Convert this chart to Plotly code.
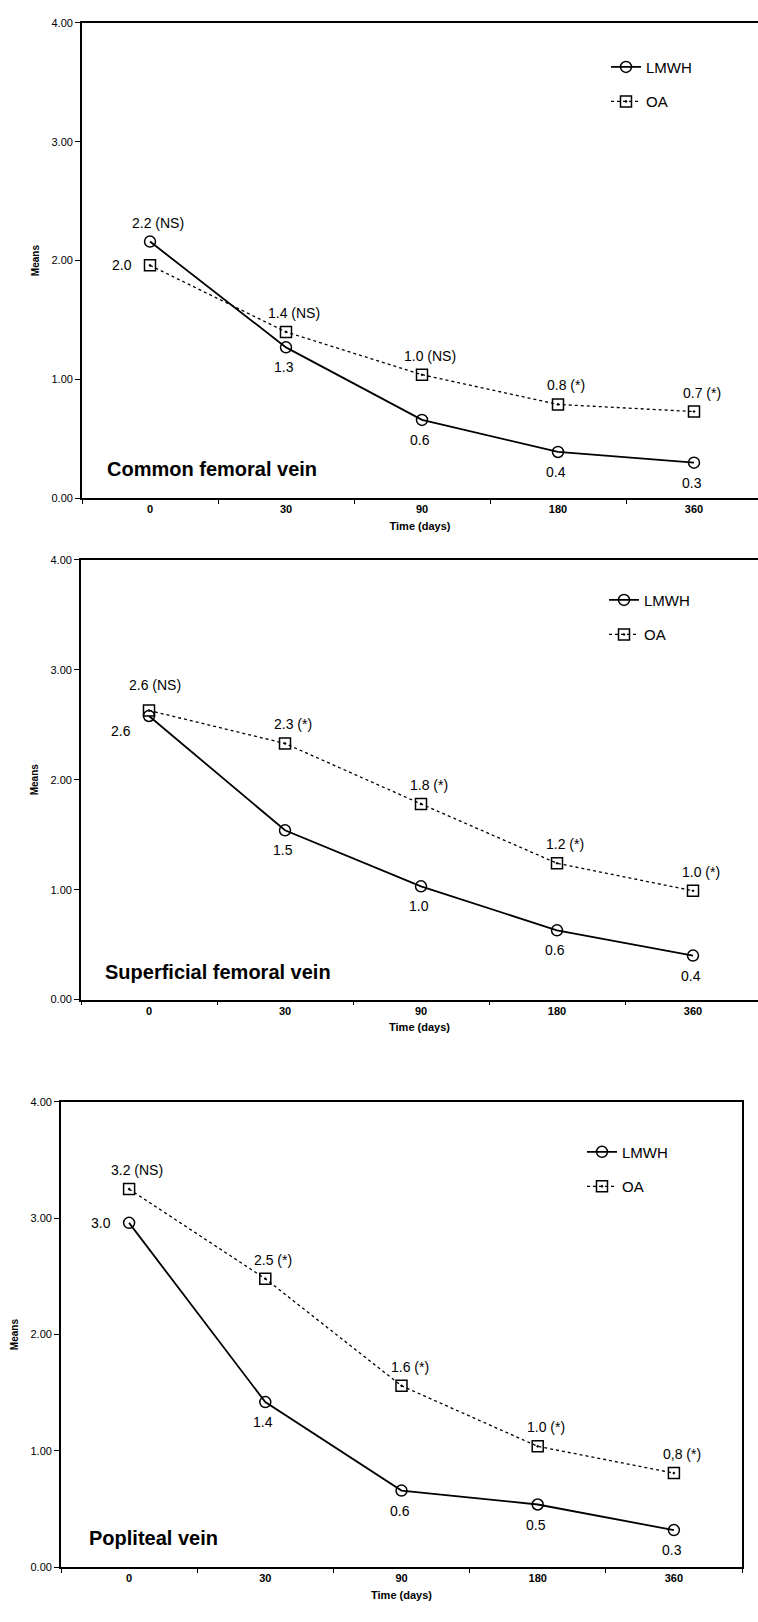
import plotly.graph_objects as go

W, H = 758, 1622

# ---------------- data ----------------
days = ["0", "30", "90", "180", "360"]

cfv_lmwh = [2.16, 1.27, 0.66, 0.39, 0.30]
cfv_oa = [1.96, 1.40, 1.04, 0.79, 0.73]
cfv_lmwh_labels = ["2.2 (NS)", "1.3", "0.6", "0.4", "0.3"]
cfv_oa_labels = ["2.0", "1.4 (NS)", "1.0 (NS)", "0.8 (*)", "0.7 (*)"]
cfv_lmwh_pos = ["above", "below", "below", "below", "below"]
cfv_oa_pos = ["left", "above", "above", "above", "above"]

sfv_lmwh = [2.58, 1.54, 1.03, 0.63, 0.40]
sfv_oa = [2.63, 2.33, 1.78, 1.24, 0.99]
sfv_lmwh_labels = ["2.6", "1.5", "1.0", "0.6", "0.4"]
sfv_oa_labels = ["2.6 (NS)", "2.3 (*)", "1.8 (*)", "1.2 (*)", "1.0 (*)"]
sfv_lmwh_pos = ["leftbelow", "below", "below", "below", "below"]
sfv_oa_pos = ["above_hi", "above", "above", "above", "above"]

pv_lmwh = [2.96, 1.42, 0.66, 0.54, 0.32]
pv_oa = [3.25, 2.48, 1.56, 1.04, 0.81]
pv_lmwh_labels = ["3.0", "1.4", "0.6", "0.5", "0.3"]
pv_oa_labels = ["3.2 (NS)", "2.5 (*)", "1.6 (*)", "1.0 (*)", "0,8 (*)"]
pv_lmwh_pos = ["left", "below", "below", "below", "below"]
pv_oa_pos = ["above", "above", "above", "above", "above"]

panel_titles = ["Common femoral vein", "Superficial femoral vein", "Popliteal vein"]
y_ticks = [0, 1, 2, 3, 4]

# ---------------- layout helpers (pixel geometry) ----------------
def px_x(p):
    return p / W

def px_y(p):
    return 1 - p / H

FONT = "Arial, Liberation Sans, Helvetica, sans-serif"

panels = [
    dict(left=82, right=758, top=17, bottom=496, xend=-0.5 + (758 - 82) / 136.0, rmirror=False,
         lm=cfv_lmwh, oa=cfv_oa, lml=cfv_lmwh_labels, oal=cfv_oa_labels,
         lmp=cfv_lmwh_pos, oap=cfv_oa_pos, leg_x=606, leg_y=45, tx=23),
    dict(left=81, right=758, top=558, bottom=1001, xend=-0.5 + (758 - 81) / 136.0, rmirror=False,
         lm=sfv_lmwh, oa=sfv_oa, lml=sfv_lmwh_labels, oal=sfv_oa_labels,
         lmp=sfv_lmwh_pos, oap=sfv_oa_pos, leg_x=604, leg_y=582, tx=22),
    dict(left=61, right=742, top=1104, bottom=1573, xend=4.5, rmirror=True,
         lm=pv_lmwh, oa=pv_oa, lml=pv_lmwh_labels, oal=pv_oa_labels,
         lmp=pv_lmwh_pos, oap=pv_oa_pos, leg_x=582, leg_y=1138, tx=26),
]

shifts = {
    "above": (8, 19),
    "above_hi": (6, 25),
    "below": (-2, -20),
    "left": (-28, 0),
    "leftbelow": (-28, -15),
}

fig = go.Figure()
annotations = []
layout = dict(
    width=W, height=H, autosize=False,
    margin=dict(l=0, r=0, t=0, b=0),
    paper_bgcolor="white", plot_bgcolor="white",
    font=dict(family=FONT, color="black"),
    showlegend=True,
)

for i, p in enumerate(panels):
    n = "" if i == 0 else str(i + 1)
    xa, ya = "x" + n, "y" + n
    leg = "legend" + n

    fig.add_trace(go.Scatter(
        x=days, y=p["lm"], name="LMWH", mode="lines+markers",
        xaxis=xa, yaxis=ya, legend=leg, legendgroup="lm" + n,
        line=dict(color="black", width=1.8),
        marker=dict(symbol="circle-open", size=11, color="black", line=dict(width=1.5, color="black")),
        hoverinfo="skip",
    ))
    fig.add_trace(go.Scatter(
        x=days, y=p["oa"], name="OA", mode="lines+markers",
        xaxis=xa, yaxis=ya, legend=leg, legendgroup="oa" + n,
        line=dict(color="black", width=1.3, dash="dot"),
        marker=dict(symbol="square-open-dot", size=11, color="black", line=dict(width=1.5, color="black")),
        hoverinfo="skip",
    ))

    layout["xaxis" + n] = dict(
        domain=[px_x(p["left"]), px_x(p["right"])],
        anchor=ya, type="category", categoryorder="array", categoryarray=days,
        range=[-0.5, p["xend"]], tickson="boundaries", ticks="outside", ticklen=4,
        tickcolor="black", tickwidth=1,
        showline=True, linewidth=1.8, linecolor="black", mirror=True,
        showgrid=False, zeroline=False,
        tickfont=dict(size=11, weight="bold", family=FONT),
        title=dict(text="Time (days)", font=dict(size=11, weight="bold", family=FONT), standoff=8),
    )
    layout["yaxis" + n] = dict(
        domain=[px_y(p["bottom"]), px_y(p["top"])],
        anchor=xa, range=[0, 4], tickvals=y_ticks, tickformat=".2f",
        ticks="outside", ticklen=5, tickcolor="black", tickwidth=1,
        showline=True, linewidth=1.8, linecolor="black", mirror=p["rmirror"],
        showgrid=False, zeroline=False,
        tickfont=dict(size=11, family=FONT),
        title=dict(text="Means", font=dict(size=10, weight="bold", family=FONT), standoff=10),
    )
    layout[leg] = dict(
        x=px_x(p["leg_x"]), y=px_y(p["leg_y"]), xanchor="left", yanchor="top",
        xref="paper", yref="paper",
        font=dict(size=15, family=FONT), bgcolor="rgba(0,0,0,0)",
        tracegroupgap=12, traceorder="grouped", itemwidth=30,
    )

    # panel title (positioned in axis-domain fraction)
    annotations.append(dict(
        text="<b>%s</b>" % panel_titles[i], xref=xa + " domain", yref=ya + " domain",
        x=p["tx"] / (p["right"] - p["left"]),
        y=0.062, xanchor="left", yanchor="middle", showarrow=False,
        font=dict(size=20, family=FONT, color="black"),
    ))

    # value labels (category index used as x so numeric-looking names are not misread)
    for series, labels, poss in ((p["lm"], p["lml"], p["lmp"]), (p["oa"], p["oal"], p["oap"])):
        for j, (v, t, ps) in enumerate(zip(series, labels, poss)):
            dx, dy = shifts[ps]
            annotations.append(dict(
                text=t, x=j, y=v, xref=xa, yref=ya, showarrow=False,
                xanchor="center", yanchor="middle", xshift=dx, yshift=dy,
                font=dict(size=14, family=FONT, color="black"),
            ))

layout["annotations"] = annotations
fig.update_layout(**layout)
fig.write_html("out.html")
